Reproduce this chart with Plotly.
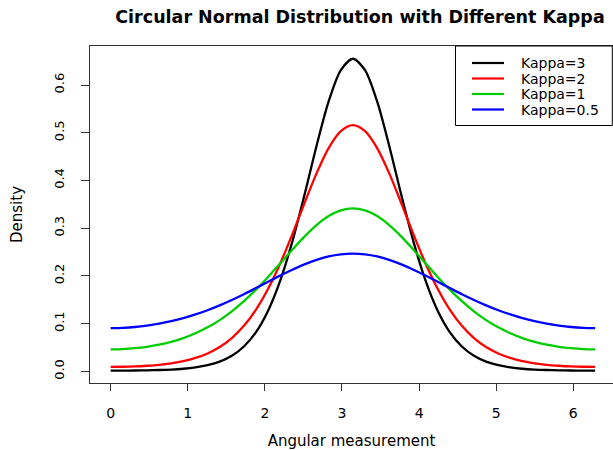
import plotly.graph_objects as go

# Angular positions (radians), 0 .. 2*pi
x_vals = [0.000, 0.157, 0.314, 0.471, 0.628, 0.785, 0.942, 1.100, 1.257, 1.414,
          1.571, 1.728, 1.885, 2.042, 2.199, 2.356, 2.513, 2.670, 2.827, 2.985,
          3.142, 3.299, 3.456, 3.613, 3.770, 3.927, 4.084, 4.241, 4.398, 4.555,
          4.712, 4.869, 5.027, 5.184, 5.341, 5.498, 5.655, 5.812, 5.969, 6.126,
          6.283]

kappa3 = [0.0016, 0.0017, 0.0019, 0.0023, 0.0029, 0.0039, 0.0056, 0.0084, 0.0129, 0.0204,
          0.0326, 0.0521, 0.0824, 0.1273, 0.1902, 0.2720, 0.3693, 0.4723, 0.5655, 0.6312,
          0.6550, 0.6312, 0.5655, 0.4723, 0.3693, 0.2720, 0.1902, 0.1273, 0.0824, 0.0521,
          0.0326, 0.0204, 0.0129, 0.0084, 0.0056, 0.0039, 0.0029, 0.0023, 0.0019, 0.0017,
          0.0016]
kappa2 = [0.0094, 0.0097, 0.0104, 0.0118, 0.0138, 0.0170, 0.0215, 0.0282, 0.0376, 0.0511,
          0.0698, 0.0955, 0.1295, 0.1731, 0.2262, 0.2872, 0.3521, 0.4148, 0.4678, 0.5033,
          0.5159, 0.5033, 0.4678, 0.4148, 0.3521, 0.2872, 0.2262, 0.1731, 0.1295, 0.0955,
          0.0698, 0.0511, 0.0376, 0.0282, 0.0215, 0.0170, 0.0138, 0.0118, 0.0104, 0.0097,
          0.0094]
kappa1 = [0.0462, 0.0468, 0.0486, 0.0516, 0.0560, 0.0620, 0.0698, 0.0798, 0.0923, 0.1075,
          0.1257, 0.1470, 0.1712, 0.1979, 0.2263, 0.2550, 0.2823, 0.3064, 0.3254, 0.3375,
          0.3417, 0.3375, 0.3254, 0.3064, 0.2823, 0.2550, 0.2263, 0.1979, 0.1712, 0.1470,
          0.1257, 0.1075, 0.0923, 0.0798, 0.0698, 0.0620, 0.0560, 0.0516, 0.0486, 0.0468,
          0.0462]
kappa05 = [0.0908, 0.0913, 0.0930, 0.0959, 0.0999, 0.1051, 0.1115, 0.1193, 0.1282, 0.1384,
           0.1497, 0.1618, 0.1747, 0.1878, 0.2008, 0.2131, 0.2243, 0.2337, 0.2408, 0.2452,
           0.2467, 0.2452, 0.2408, 0.2337, 0.2243, 0.2131, 0.2008, 0.1878, 0.1747, 0.1618,
           0.1497, 0.1384, 0.1282, 0.1193, 0.1115, 0.1051, 0.0999, 0.0959, 0.0930, 0.0913,
           0.0908]

series_names = ["Kappa=3", "Kappa=2", "Kappa=1", "Kappa=0.5"]
series_values = [kappa3, kappa2, kappa1, kappa05]
series_colors = ["#000000", "#FF0000", "#00CD00", "#0000FF"]

x_ticks = [0, 1, 2, 3, 4, 5, 6]
y_ticks = [0.0, 0.1, 0.2, 0.3, 0.4, 0.5, 0.6]
y_tick_labels = ["0.0", "0.1", "0.2", "0.3", "0.4", "0.5", "0.6"]

FONT = "DejaVu Sans"
W, H = 613, 450
ML, MR, MT, MB = 90, 0, 46, 67
PW, PH = W - ML - MR, H - MT - MB


def px_x(p):
    return (p - ML) / PW


def px_y(p):
    return (H - MB - p) / PH


fig = go.Figure()
for name, vals, col in zip(series_names, series_values, series_colors):
    fig.add_trace(go.Scatter(x=x_vals, y=vals, mode="lines", name=name,
                             line=dict(color=col, width=2.3, shape="spline", smoothing=0.8)))

# legend box drawn R-style (top-right, inside the plot)
shapes = [dict(type="rect", xref="paper", yref="paper",
               x0=px_x(455.5), x1=px_x(612.3), y0=px_y(125.5), y1=px_y(46),
               line=dict(color="black", width=1), fillcolor="white", layer="above")]
annotations = []
rows = [63, 78.5, 94, 109.5]
for name, col, ry in zip(series_names, series_colors, rows):
    shapes.append(dict(type="line", xref="paper", yref="paper",
                       x0=px_x(472), x1=px_x(504), y0=px_y(ry), y1=px_y(ry),
                       line=dict(color=col, width=2.2), layer="above"))
    annotations.append(dict(text=name, xref="paper", yref="paper",
                            x=px_x(519), y=px_y(ry), xanchor="left", yanchor="middle",
                            showarrow=False, font=dict(family=FONT, size=14, color="black")))

fig.update_layout(
    width=W, height=H,
    margin=dict(l=ML, r=MR, t=MT, b=MB),
    paper_bgcolor="white", plot_bgcolor="white",
    font=dict(family=FONT, color="black"),
    title=dict(text="<b>Circular Normal Distribution with Different Kappa</b>",
               x=px_x(360), xref="paper", xanchor="center",
               y=1 - 17 / 450, yref="container", yanchor="middle",
               font=dict(family=FONT, size=17.5, color="black")),
    showlegend=False,
    shapes=shapes,
    annotations=annotations,
)
fig.update_xaxes(
    range=[-0.268, 6.515], tickvals=x_ticks, ticks="outside", ticklen=7,
    tickcolor="#333333", showline=True, linecolor="#333333", linewidth=1,
    mirror=True, showgrid=False, zeroline=False, automargin=False,
    tickfont=dict(family=FONT, size=14), ticklabelstandoff=10,
    title=dict(text="Angular measurement", font=dict(family=FONT, size=15), standoff=22),
)
fig.update_yaxes(
    range=[-0.0243, 0.6817], tickvals=y_ticks, ticktext=y_tick_labels,
    ticks="outside", ticklen=8, tickcolor="#333333", tickangle=-90,
    showline=True, linecolor="#333333", linewidth=1, mirror=False,
    showgrid=False, zeroline=False, automargin=False,
    tickfont=dict(family=FONT, size=13), ticklabelstandoff=12,
    title=dict(text="Density", font=dict(family=FONT, size=15), standoff=25),
)

fig.write_html("out.html", config={"displayModeBar": False},
               post_script="document.body.style.margin='0px';document.body.style.overflow='hidden';")
